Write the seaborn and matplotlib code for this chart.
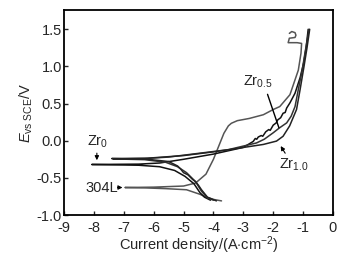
import matplotlib
matplotlib.use("Agg")
import matplotlib.pyplot as plt
import seaborn as sns

# polarization curves: log current density (x) vs potential (y)
# each curve runs cathodic end -> Ecorr -> anodic end
logi_304L = [-3.73, -4.0, -4.23, -4.46, -4.9, -5.6, -6.3, -6.96,
             -6.0, -5.0, -4.6, -4.25, -4.0, -3.8, -3.65, -3.5, -3.4, -3.2,
             -2.8, -2.33, -2.0, -1.78, -1.44, -1.16, -1.07, -1.05, -1.2, -1.5,
             -1.46, -1.27, -1.24, -1.27, -1.38, -1.46]
e_304L = [-0.81, -0.79, -0.76, -0.72, -0.66, -0.645, -0.635, -0.63,
          -0.625, -0.61, -0.57, -0.45, -0.25, -0.05, 0.1, 0.2, 0.235, 0.27,
          0.30, 0.35, 0.42, 0.46, 0.62, 0.95, 1.18, 1.31, 1.32, 1.32,
          1.38, 1.39, 1.42, 1.455, 1.47, 1.445]

logi_zr0 = [-4.1, -4.3, -4.45, -4.65, -4.95, -5.3, -5.8, -6.5, -8.07,
            -6.5, -5.8, -5.0, -4.0, -3.0, -2.67, -2.6, -2.55, -2.5, -2.4,
            -2.35, -2.25, -2.15, -2.1, -2.0, -1.9, -1.85, -1.75, -1.67, -1.6,
            -1.55, -1.44, -1.27, -1.1, -0.98, -0.9, -0.83]
e_zr0 = [-0.80, -0.76, -0.70, -0.58, -0.48, -0.40, -0.35, -0.33, -0.32,
         -0.315, -0.30, -0.25, -0.18, -0.09, -0.01, 0.03, 0.02, 0.05, 0.07,
         0.06, 0.12, 0.15, 0.14, 0.21, 0.24, 0.28, 0.31, 0.37, 0.38,
         0.44, 0.51, 0.64, 0.85, 1.05, 1.25, 1.5]

logi_zr05 = [-4.0, -4.2, -4.4, -4.6, -4.9, -5.2, -5.6, -6.3, -7.35,
             -6.3, -5.5, -4.5, -3.5, -2.56, -2.3, -2.0, -1.8, -1.55, -1.4,
             -1.27, -1.16, -1.03, -0.93, -0.8]
e_zr05 = [-0.80, -0.77, -0.68, -0.55, -0.43, -0.35, -0.29, -0.255, -0.245,
          -0.24, -0.22, -0.17, -0.12, -0.03, 0.02, 0.107, 0.17, 0.24, 0.33,
          0.46, 0.69, 0.95, 1.2, 1.5]

logi_zr10 = [-3.9, -4.2, -4.4, -4.5, -4.6, -4.7, -4.85, -5.0, -5.1, -5.2,
             -5.5, -6.2, -7.4,
             -6.2, -5.0, -4.0, -3.45, -2.33, -1.89, -1.67, -1.45, -1.22,
             -1.1, -0.97, -0.87, -0.78]
e_zr10 = [-0.81, -0.76, -0.66, -0.60, -0.55, -0.52, -0.46, -0.43, -0.38, -0.34,
          -0.28, -0.25, -0.24,
          -0.235, -0.20, -0.15, -0.118, -0.05, -0.005, 0.06, 0.2, 0.42,
          0.69, 1.0, 1.25, 1.5]

sns.set_style("ticks")
plt.rcParams['font.family'] = ['Liberation Sans', 'DejaVu Sans']
plt.rcParams['mathtext.fontset'] = 'custom'
plt.rcParams['mathtext.rm'] = 'Liberation Sans'
plt.rcParams['mathtext.it'] = 'Liberation Sans:italic'

fig = plt.figure(figsize=(3.44, 2.63), dpi=100)
ax = fig.add_axes([0.186, 0.1825, 0.782, 0.7795])

sns.lineplot(x=logi_304L, y=e_304L, sort=False, estimator=None, color='#555555', lw=1.1, ax=ax)
sns.lineplot(x=logi_zr0, y=e_zr0, sort=False, estimator=None, color='#111111', lw=1.1, ax=ax)
sns.lineplot(x=logi_zr05, y=e_zr05, sort=False, estimator=None, color='#333333', lw=1.1, ax=ax)
sns.lineplot(x=logi_zr10, y=e_zr10, sort=False, estimator=None, color='#222222', lw=1.1, ax=ax)

ax.set_xlim(-9, 0)
ax.set_ylim(-1.0, 1.76)
ax.set_xticks(range(-9, 1))
ax.set_xticklabels([str(v) for v in range(-9, 1)])
ax.set_yticks([-1.0, -0.5, 0.0, 0.5, 1.0, 1.5])
ax.set_yticklabels(['-1.0', '-0.5', '0.0', '0.5', '1.0', '1.5'])
ax.tick_params(direction='in', length=3, width=1, labelsize=10.5)
ax.tick_params(axis='x', pad=4)
ax.tick_params(axis='y', pad=1.5)
for s in ax.spines.values():
    s.set_linewidth(1.3)
    s.set_color('black')

ax.set_xlabel(r'Current density/(A$\cdot$cm$^{-2}$)', fontsize=10.5, labelpad=0)
ax.set_ylabel(r'$E_{\mathrm{vs\ SCE}}$/V', fontsize=10.5, labelpad=1)

# labels with arrows
ax.text(-7.86, -0.02, r'Zr$_{0}$', fontsize=10.5, ha='center', va='center')
ax.annotate('', xy=(-7.9, -0.30), xytext=(-7.9, -0.13),
            arrowprops=dict(arrowstyle='-|>', lw=0.8, color='black', mutation_scale=6))
ax.text(-7.75, -0.63, '304L', fontsize=10.5, ha='center', va='center')
ax.annotate('', xy=(-6.95, -0.63), xytext=(-7.3, -0.63),
            arrowprops=dict(arrowstyle='-|>', lw=0.8, color='black', mutation_scale=6))
ax.text(-2.5, 0.79, r'Zr$_{0.5}$', fontsize=10.5, ha='center', va='center')
ax.annotate('', xy=(-1.78, 0.14), xytext=(-2.22, 0.66),
            arrowprops=dict(arrowstyle='-', lw=1.0, color='black'))
ax.text(-1.3, -0.32, r'Zr$_{1.0}$', fontsize=10.5, ha='center', va='center')
ax.annotate('', xy=(-1.8, -0.04), xytext=(-1.55, -0.2),
            arrowprops=dict(arrowstyle='-|>', lw=0.8, color='black', mutation_scale=6))

fig.savefig('out.png', dpi=100)
